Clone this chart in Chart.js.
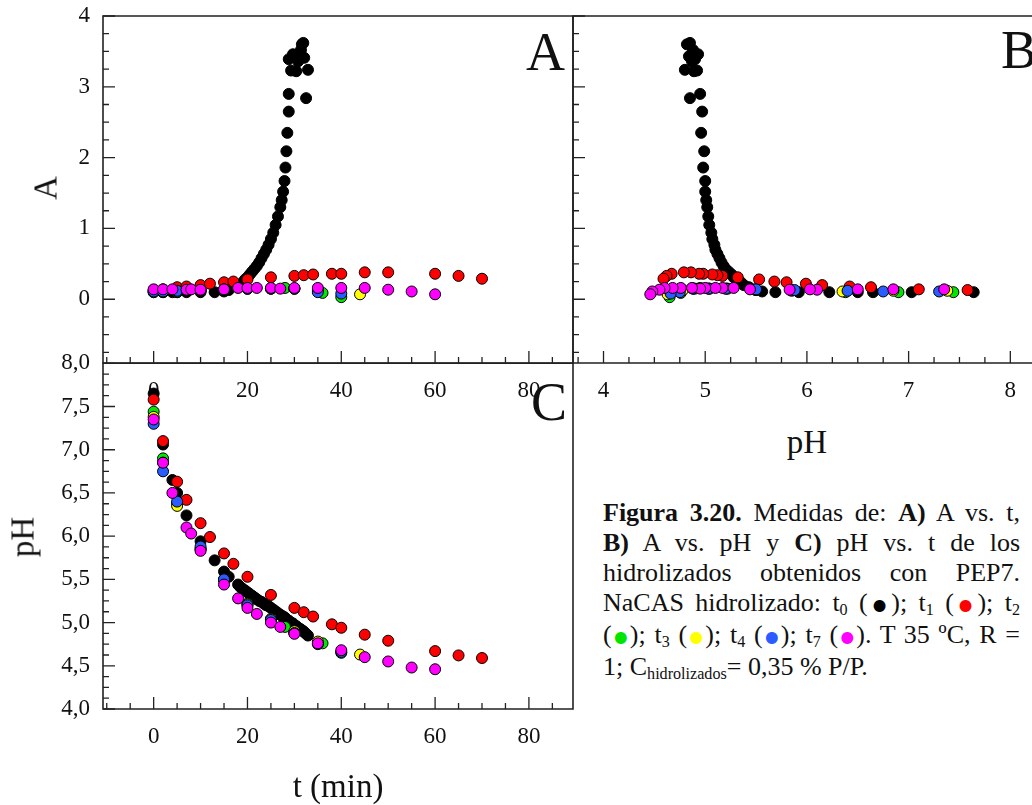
<!DOCTYPE html>
<html>
<head>
<meta charset="utf-8">
<script src="https://cdn.jsdelivr.net/npm/chart.js@4.4.0/dist/chart.umd.min.js"></script>
<style>
    html, body {
        margin: 0;
        padding: 0;
        width: 1032px;
        height: 805px;
        overflow: hidden;
        background: #fff;
        position: relative;
        font-family: 'Liberation Serif', 'Times New Roman', serif;
        color: #111;
    }
    canvas { position: absolute; }
    .txt { position: absolute; white-space: nowrap; line-height: 1; }
    .letter { font-size: 54px; }
    .title { font-size: 33px; transform: translate(-50%, -50%); }
    .rot { transform: translate(-50%, -50%) rotate(-90deg); }
    #caption {
        position: absolute;
        left: 603px;
        top: 498px;
        width: 417px;
        font-size: 26px;
        line-height: 30px;
    }
    #caption .j { text-align: justify; text-align-last: justify; }
    #caption sub { font-size: 0.62em; vertical-align: -0.25em; line-height: 0; }
    #caption .dot { font-family: 'DejaVu Sans', sans-serif; font-size: 0.6em; vertical-align: 0.08em; }
</style>
</head>
<body>
<canvas id="chartA" width="600" height="420" style="left:0;top:0"></canvas>
<canvas id="chartB" width="500" height="420" style="left:560px;top:0"></canvas>
<canvas id="chartC" width="600" height="465" style="left:0;top:340px"></canvas>

<div class="txt letter" style="left:526px;top:25px">A</div>
<div class="txt letter" style="left:1001px;top:23px">B</div>
<div class="txt letter" style="left:531px;top:375px">C</div>

<div class="txt title rot" style="left:46px;top:188px">A</div>
<div class="txt title rot" style="left:23px;top:537px">pH</div>
<div class="txt title" style="left:807px;top:442px">pH</div>
<div class="txt title" style="left:338px;top:786px">t (min)</div>

<div id="caption">
    <div class="j"><b>Figura 3.20.</b> Medidas de: <b>A)</b> A vs. t,</div>
    <div class="j"><b>B)</b> A vs. pH y <b>C)</b> pH vs. t de los</div>
    <div class="j">hidrolizados obtenidos con PEP7.</div>
    <div class="j">NaCAS hidrolizado: t<sub>0</sub> (<span class="dot" style="color:#000">●</span>); t<sub>1</sub> (<span class="dot" style="color:#ff0000">●</span>); t<sub>2</sub></div>
    <div class="j">(<span class="dot" style="color:#00e600">●</span>); t<sub>3</sub> (<span class="dot" style="color:#ffff00">●</span>); t<sub>4</sub> (<span class="dot" style="color:#2a5cff">●</span>); t<sub>7</sub> (<span class="dot" style="color:#ff00ff">●</span>). T 35 ºC, R =</div>
    <div>1; C<sub>hidrolizados</sub>= 0,35 % P/P.</div>
</div>

<script>
// ---- data: time (min), absorbance A, pH for each hydrolysate ----

// t0 (black)
const t0Time = [0, 2, 4, 5, 7, 10, 13, 15, 16, 18, 18.5, 19, 19.5, 20, 20.5, 21, 21.5, 22, 22.5, 23, 23.5, 24, 24.5, 25, 25.5, 26, 26.5, 27, 27.3, 27.6, 27.9, 28.1, 28.3, 28.5, 28.8, 28.8, 28.8, 29.3, 29.7, 30.4, 30.8, 31.1, 31.4, 31.6, 31.9, 32.1, 32.5, 32.9];
const t0A = [0.10, 0.10, 0.10, 0.10, 0.10, 0.10, 0.10, 0.11, 0.13, 0.17, 0.20, 0.24, 0.28, 0.31, 0.35, 0.39, 0.43, 0.47, 0.52, 0.58, 0.64, 0.70, 0.77, 0.85, 0.94, 1.05, 1.17, 1.30, 1.40, 1.52, 1.67, 1.86, 2.09, 2.35, 2.65, 2.90, 3.39, 3.23, 3.46, 3.22, 3.36, 3.43, 3.52, 3.60, 3.62, 3.41, 2.84, 3.24];
const t0PH = [7.65, 7.06, 6.65, 6.50, 6.24, 5.94, 5.72, 5.59, 5.53, 5.44, 5.41, 5.39, 5.37, 5.35, 5.33, 5.31, 5.29, 5.27, 5.25, 5.24, 5.22, 5.20, 5.19, 5.17, 5.15, 5.13, 5.11, 5.09, 5.08, 5.07, 5.06, 5.05, 5.04, 5.03, 5.02, 5.02, 5.01, 5.00, 4.99, 4.96, 4.94, 4.93, 4.92, 4.91, 4.90, 4.89, 4.87, 4.85];
// pH positions of t0
const t0PHb = [7.64, 7.03, 6.65, 6.50, 6.22, 5.92, 5.69, 5.56, 5.50, 5.43, 5.38, 5.35, 5.31, 5.28, 5.26, 5.23, 5.20, 5.18, 5.16, 5.14, 5.12, 5.10, 5.09, 5.07, 5.06, 5.04, 5.03, 5.02, 5.01, 5.00, 5.00, 4.98, 4.99, 4.96, 4.97, 4.95, 4.90, 4.92, 4.93, 4.89, 4.87, 4.84, 4.88, 4.82, 4.85, 4.86, 4.85, 4.80];

// t1 (red)
const t1Time = [0, 2, 5, 7, 10, 12, 15, 17, 20, 25, 30, 32, 34, 38, 40, 45, 50, 60, 65, 70];
const t1A = [0.13, 0.14, 0.17, 0.18, 0.20, 0.22, 0.24, 0.25, 0.28, 0.31, 0.33, 0.34, 0.35, 0.36, 0.36, 0.38, 0.38, 0.36, 0.33, 0.29];
const t1PH = [7.58, 7.10, 6.63, 6.42, 6.15, 5.99, 5.80, 5.68, 5.53, 5.32, 5.17, 5.12, 5.07, 4.98, 4.94, 4.86, 4.79, 4.67, 4.62, 4.59];

// t2 (green)
const t2Time = [0, 2, 5, 10, 15, 20, 25, 28, 30, 36, 40];
const t2A = [0.10, 0.10, 0.10, 0.12, 0.13, 0.15, 0.15, 0.16, 0.15, 0.09, 0.03];
const t2PH = [7.44, 6.90, 6.38, 5.85, 5.50, 5.22, 5.04, 4.95, 4.88, 4.76, 4.65];

// t3 (yellow)
const t3Time = [0, 2, 5, 10, 15, 20, 25, 30, 35, 44];
const t3A = [0.12, 0.12, 0.11, 0.13, 0.14, 0.15, 0.15, 0.15, 0.13, 0.07];
const t3PH = [7.38, 6.85, 6.35, 5.85, 5.49, 5.21, 5.04, 4.90, 4.78, 4.63];

// t4 (blue)
const t4Time = [0, 2, 5, 10, 15, 20, 25, 30, 35, 40];
const t4A = [0.11, 0.11, 0.12, 0.13, 0.14, 0.15, 0.15, 0.15, 0.10, 0.08];
const t4PH = [7.30, 6.75, 6.40, 5.88, 5.50, 5.20, 5.03, 4.88, 4.75, 4.66];

// t7 (magenta)
const t7Time = [0, 2, 4, 7, 8, 10, 15, 18, 20, 22, 25, 27, 30, 35, 40, 45, 50, 55, 60];
const t7A = [0.14, 0.14, 0.14, 0.135, 0.14, 0.135, 0.14, 0.16, 0.16, 0.16, 0.16, 0.15, 0.16, 0.16, 0.16, 0.16, 0.135, 0.11, 0.07];
const t7PH = [7.35, 6.85, 6.50, 6.10, 6.03, 5.83, 5.44, 5.28, 5.17, 5.10, 5.00, 4.95, 4.87, 4.76, 4.68, 4.60, 4.55, 4.48, 4.46];

// ---- axis ticks ----
const timeTicks = [0, 20, 40, 60, 80];
const absTicks = [0, 1, 2, 3, 4];
const phTicksB = [4, 5, 6, 7, 8];
const phTicksC = [4.0, 4.5, 5.0, 5.5, 6.0, 6.5, 7.0, 7.5, 8.0];

const series = [
    { name: 't0', color: '#000000', time: t0Time, a: t0A, ph: t0PH, phB: t0PHb },
    { name: 't1', color: '#ff0000', time: t1Time, a: t1A, ph: t1PH },
    { name: 't2', color: '#00e600', time: t2Time, a: t2A, ph: t2PH },
    { name: 't3', color: '#ffff00', time: t3Time, a: t3A, ph: t3PH },
    { name: 't4', color: '#2a5cff', time: t4Time, a: t4A, ph: t4PH },
    { name: 't7', color: '#ff00ff', time: t7Time, a: t7A, ph: t7PH }
];

function steps(from, to, step) {
    const out = [];
    for (let v = from; v <= to + 1e-9; v += step) out.push(+v.toFixed(4));
    return out;
}

// datasets: later series are drawn on top (magenta last)
function makeDatasets(pick) {
    return series.map((s, i) => ({
        label: s.name,
        data: s.time.map((t, k) => pick(s, k)),
        backgroundColor: s.color,
        borderColor: '#000',
        borderWidth: 1,
        pointRadius: 5.5,
        order: series.length - i
    }));
}

// frame + inward tick marks
const frameTicks = {
    id: 'frameTicks',
    afterDatasetsDraw(chart, args, opts) {
        const ctx = chart.ctx;
        const area = chart.chartArea;
        const xs = chart.scales.x;
        const ys = chart.scales.y;
        ctx.save();
        ctx.strokeStyle = '#222';
        ctx.lineWidth = 1.3;
        ctx.beginPath();
        const mark = (values, len, isX) => {
            values.forEach(v => {
                if (isX) {
                    const px = xs.getPixelForValue(v);
                    if (px < area.left || px > area.right) return;
                    ctx.moveTo(px, area.bottom);
                    ctx.lineTo(px, area.bottom - len);
                } else {
                    const py = ys.getPixelForValue(v);
                    if (py < area.top || py > area.bottom) return;
                    ctx.moveTo(area.left, py);
                    ctx.lineTo(area.left + len, py);
                }
            });
        };
        mark(opts.xMajor, 12, true);
        mark(opts.xMinor, 6, true);
        mark(opts.yMajor, 12, false);
        mark(opts.yMinor, 6, false);
        ctx.stroke();

        ctx.lineWidth = 1.6;
        ctx.beginPath();
        ctx.moveTo(area.right, area.top);
        ctx.lineTo(area.left, area.top);
        ctx.lineTo(area.left, area.bottom);
        ctx.lineTo(area.right, area.bottom);
        if (opts.closeRight) ctx.lineTo(area.right, area.top);
        ctx.stroke();
        ctx.restore();
    }
};

Chart.defaults.font.family = "'Liberation Serif', 'Times New Roman', serif";
Chart.defaults.font.size = 23;
Chart.defaults.color = '#111';

function axis(min, max, tickValues, size, isX, extra) {
    return Object.assign({
        type: 'linear',
        min: min,
        max: max,
        grid: { display: false, drawTicks: false },
        border: { display: false },
        afterBuildTicks: s => { s.ticks = tickValues.map(v => ({ value: v })); },
        afterFit: s => {
            if (isX) s.height = size; else s.width = size;
            // the chart area is placed by the layout padding only
            s.paddingTop = 0;
            s.paddingBottom = 0;
            s.paddingLeft = 0;
            s.paddingRight = 0;
        },
        ticks: { padding: isX ? 14 : 13, autoSkip: false, maxRotation: 0 }
    }, extra || {});
}

function panel(id, cfg) {
    return new Chart(document.getElementById(id), {
        type: 'scatter',
        data: { datasets: cfg.datasets },
        options: {
            responsive: false,
            animation: false,
            events: [],
            layout: { padding: cfg.padding },
            plugins: {
                legend: { display: false },
                tooltip: { enabled: false },
                frameTicks: cfg.marks
            },
            scales: { x: cfg.x, y: cfg.y }
        },
        plugins: [frameTicks]
    });
}

// A: absorbance vs time
panel('chartA', {
    datasets: makeDatasets((s, k) => ({ x: s.time[k], y: s.a[k] })),
    padding: { left: 0, top: 16, right: 27, bottom: 0 },
    x: axis(-10.8, 89.4, timeTicks, 57, true),
    y: axis(-0.9, 4, absTicks, 103, false),
    marks: { xMajor: timeTicks, xMinor: steps(-10, 85, 5), yMajor: absTicks, yMinor: steps(-0.75, 3.75, 0.25), closeRight: true }
});

// B: absorbance vs pH
panel('chartB', {
    datasets: makeDatasets((s, k) => ({ x: (s.phB || s.ph)[k], y: s.a[k] })),
    padding: { left: 13, top: 16, right: 15, bottom: 0 },
    x: axis(3.7, 8.341, phTicksB, 57, true),
    y: axis(-0.9, 4, absTicks, 0, false, { ticks: { display: false } }),
    marks: { xMajor: phTicksB, xMinor: steps(3.75, 8.25, 0.25), yMajor: absTicks, yMinor: steps(-0.75, 3.75, 0.25), closeRight: false }
});

// C: pH vs time
panel('chartC', {
    datasets: makeDatasets((s, k) => ({ x: s.time[k], y: s.ph[k] })),
    padding: { left: 0, top: 23.3, right: 27, bottom: 0 },
    x: axis(-10.8, 89.4, timeTicks, 96, true),
    y: axis(4, 8, phTicksC, 103, false, {
        ticks: { padding: 13, autoSkip: false, callback: v => v.toFixed(1).replace('.', ',') }
    }),
    marks: { xMajor: timeTicks, xMinor: steps(-10, 85, 5), yMajor: phTicksC, yMinor: steps(4.125, 7.875, 0.125), closeRight: true }
});
</script>
</body>
</html>
